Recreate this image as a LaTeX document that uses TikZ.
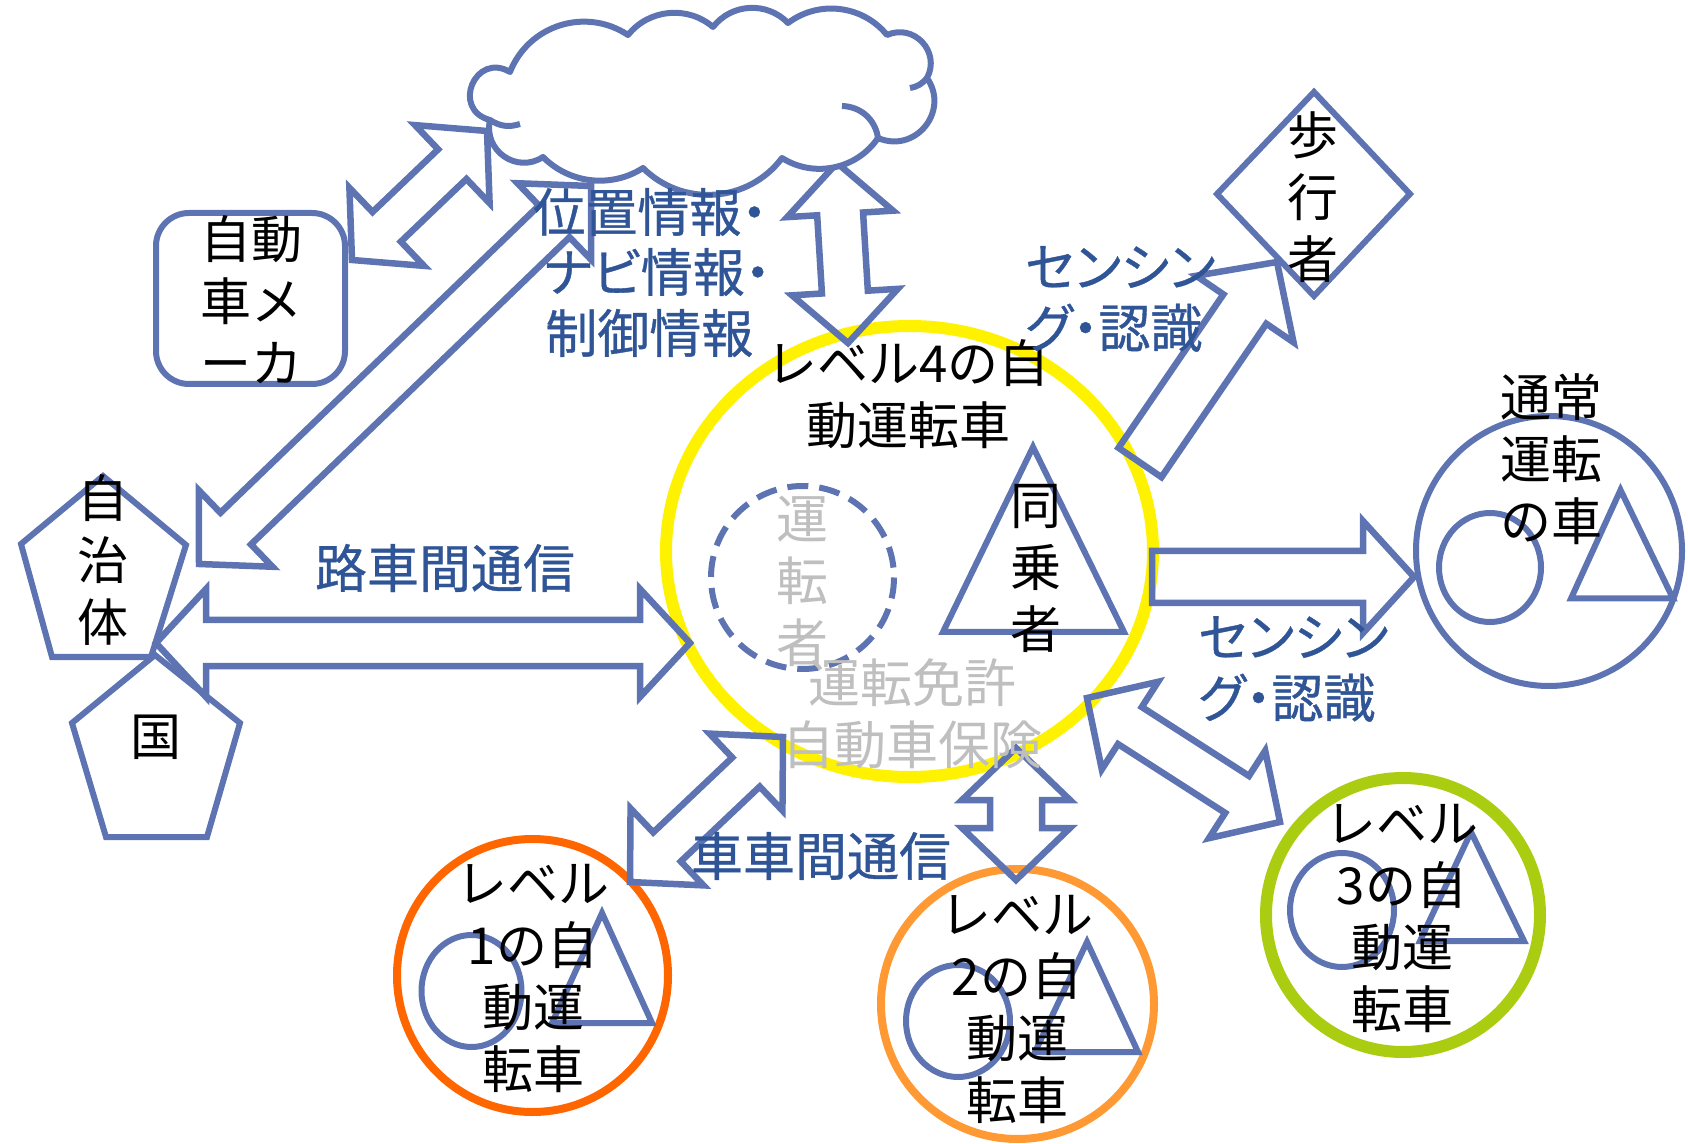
\documentclass[tikz,border=0pt]{standalone}
\usepackage{fontspec}
\newfontfamily\jp{Noto Sans CJK JP}
\newfontfamily\jpp[RawFeature=+palt, FakeBold=0.7]{Noto Sans CJK JP}
\usetikzlibrary{calc}
\definecolor{bl}{RGB}{94,116,178}
\definecolor{tb}{RGB}{47,85,151}
\definecolor{grt}{RGB}{191,191,191}
\definecolor{lvone}{RGB}{255,102,0}
\definecolor{lvtwo}{RGB}{255,153,51}
\definecolor{lvthree}{RGB}{170,205,18}
% double block arrow: #1 -> #2, shaft half width #3, head half width #4, head length #5
\newcommand\dblarrow[5]{%
  \coordinate (ha) at ($(#1)!#5!(#2)$);
  \coordinate (hb) at ($(#2)!#5!(#1)$);
  \draw[barrow] (#1) -- ($(ha)!#4!90:(#2)$) -- ($(ha)!#3!90:(#2)$)
    -- ($(hb)!#3!-90:(#1)$) -- ($(hb)!#4!-90:(#1)$) -- (#2)
    -- ($(hb)!#4!90:(#1)$) -- ($(hb)!#3!90:(#1)$)
    -- ($(ha)!#3!-90:(#2)$) -- ($(ha)!#4!-90:(#2)$) -- cycle;}
% single block arrow: tail #1 -> tip #2
\newcommand\sglarrow[5]{%
  \coordinate (hb) at ($(#2)!#5!(#1)$);
  \draw[barrow] ($(#1)!#3!-90:(#2)$) -- ($(hb)!#3!90:(#1)$) -- ($(hb)!#4!90:(#1)$)
    -- (#2) -- ($(hb)!#4!-90:(#1)$) -- ($(hb)!#3!-90:(#1)$)
    -- ($(#1)!#3!90:(#2)$) -- cycle;}
\begin{document}
\begin{tikzpicture}[x=0.5pt,y=-0.5pt,
  outl/.style={draw=bl, line width=3pt},
  barrow/.style={draw=bl, line width=3.25pt, line join=miter, miter limit=10},
  cloudst/.style={draw=bl, line width=3pt, fill=white, line join=round},
  blk/.style={font=\jp\fontsize{25.5}{31}\selectfont, text=black, align=center, inner sep=0pt},
  blu/.style={font=\jpp\fontsize{26}{30.5}\selectfont, text=tb, align=center, inner sep=0pt},
  gry/.style={font=\jp\fontsize{26}{31}\selectfont, text=grt, align=center, inner sep=0pt}]
\useasboundingbox (0,0) rectangle (1688,1144);

% ---- shapes ----
\draw[yellow, line width=6pt] (909.5,551.5) ellipse [x radius=243.5, y radius=225.5];
\draw[bl, line width=3pt, dash pattern=on 10.5pt off 5.5pt] (802.5,577.5) circle [radius=91.5];
\draw[outl, line join=miter] (1033,447) -- (1124,632) -- (943,632) -- cycle;

% level 1
\draw[lvone, line width=4pt] (532.5,975.5) ellipse [x radius=135.5, y radius=136.5];
\draw[outl] (471.5,991) ellipse [x radius=50, y radius=56];
\draw[outl, line join=miter] (602,913) -- (652,1023) -- (552,1023) -- cycle;
% level 2
\draw[lvtwo, line width=4pt] (1017.5,1004) ellipse [x radius=136.5, y radius=135];
\draw[outl] (958,1021) ellipse [x radius=52, y radius=56];
\draw[outl, line join=miter] (1087,942) -- (1138,1052) -- (1035,1052) -- cycle;
% level 3
\draw[lvthree, line width=6pt] (1403,915) circle [radius=137];
\draw[outl] (1342,910) ellipse [x radius=52, y radius=57];
\draw[outl, line join=miter] (1471,832) -- (1524,941) -- (1420,941) -- cycle;
% normal car
\draw[outl] (1549,551) ellipse [x radius=133, y radius=135];
\draw[outl] (1490,567.5) ellipse [x radius=51, y radius=54.5];
\draw[outl, line join=miter] (1620.5,490) -- (1673,598.5) -- (1571,598.5) -- cycle;
% pedestrian diamond
\draw[outl, line join=miter] (1314,92) -- (1410,194) -- (1314,296) -- (1217,194) -- cycle;
% maker box
\draw[outl, rounded corners=16.5pt] (156,213) rectangle (345,384);
% pentagons
\draw[outl, line join=miter] (103,476) -- (186,545) -- (151,657) -- (52,657) -- (21,544) -- cycle;
\draw[outl, line join=miter] (155,655) -- (240,723) -- (207,837) -- (106,837) -- (72,723) -- cycle;

% ---- arrow end points ----
\coordinate (mkA) at (352,260);   \coordinate (mkB) at (487,131);
\coordinate (jcA) at (199,564);   \coordinate (jcB) at (591,186);
\coordinate (cyA) at (837,163);   \coordinate (cyB) at (848,343);
\coordinate (rsA) at (156,643);   \coordinate (rsB) at (690,643);
\coordinate (ssA) at (630,882);   \coordinate (ssB) at (783,737);
\coordinate (ltA) at (1016,748);  \coordinate (ltB) at (1016,880);
\coordinate (lhA) at (1087,698);  \coordinate (lhB) at (1280,822);
\coordinate (pdA) at (1140,462.5); \coordinate (pdB) at (1277,262);
\coordinate (ncA) at (1152,577);  \coordinate (ncB) at (1414,577);

\dblarrow{mkA}{mkB}{10.25pt}{27pt}{24pt}
\dblarrow{jcA}{jcB}{11pt}{26.5pt}{25.5pt}
\dblarrow{cyA}{cyB}{11.5pt}{26.5pt}{25.5pt}
\dblarrow{rsA}{rsB}{11.5pt}{27pt}{25pt}
\dblarrow{ssA}{ssB}{10pt}{26.5pt}{25.5pt}
\dblarrow{ltA}{ltB}{13pt}{27pt}{26pt}
\dblarrow{lhA}{lhB}{11pt}{26pt}{25.5pt}
\sglarrow{pdA}{pdB}{13pt}{29.5pt}{28.5pt}
\sglarrow{ncA}{ncB}{13pt}{28pt}{25.5pt}

% ---- cloud ----
\draw[cloudst] (510,72)
  to[bend left=51, looseness=1.05] (628,35)
  to[bend left=46, looseness=1.0] (713,27)
  to[bend left=49, looseness=1.03] (788,23)
  to[bend left=44, looseness=0.99] (887,35)
  to[bend left=71, looseness=1.29] (927,78)
  to[bend left=74, looseness=1.34] (878,138)
  to[bend left=44, looseness=0.99] (782,158)
  to[bend left=49, looseness=1.03] (643,168)
  to[bend left=39, looseness=0.96] (543,157)
  to[bend left=68, looseness=1.24] (490,120)
  to[bend left=98, looseness=2.0] (510,72) -- cycle;
\draw[outl] (842,106) to[bend left=40] (878,138);
\draw[outl] (490,120) to[bend right=25] (520,124);
\draw[outl] (927,78) to[bend left=20] (910,88);

% ---- texts ----
\node[blk] (maker) at (251,300) {自動\\車メ\\ーカ};
\node[blk] (jichitai) at (103,560) {自\\治\\体};
\node[blk] (kuni) at (156,737) {国};
\node[blk] (lv4) at (908,394) {レベル4の自\\動運転車};
\node[blk] (doujou) at (1036,568.5) {同\\乗\\者};
\node[gry] (untensha) at (802,581) {運\\転\\者};
\node[gry] (menkyo) at (912,714) {運転免許\\自動車保険};
\node[blk] (hokou) at (1313,197) {歩\\行\\者};
\node[blk] (tsujo) at (1551,459) {通常\\運転\\の車};
\node[blk] (lvonet) at (533,978) {レベル\\1の自\\動運\\転車};
\node[blk] (lvtwot) at (1017,1009) {レベル\\2の自\\動運\\転車};
\node[blk] (lvthreet) at (1402,918) {レベル\\3の自\\動運\\転車};
\node[blu, anchor=west] (infoa) at (533,212) {位置情報・};
\node[blu, anchor=west] (infob) at (543,272) {ナビ情報・};
\node[blu, anchor=west] (infoc) at (545,333) {制御情報};
\node[blu] (rosha) at (445,568) {路車間通信};
\node[blu] (shasha) at (821,856) {車車間通信};
\node[blu, anchor=west, align=left] (sensa) at (1025,299) {センシン\\グ・認識};
\node[blu, anchor=west, align=left] (sensb) at (1198,669) {センシン\\グ・認識};
\end{tikzpicture}
\end{document}
